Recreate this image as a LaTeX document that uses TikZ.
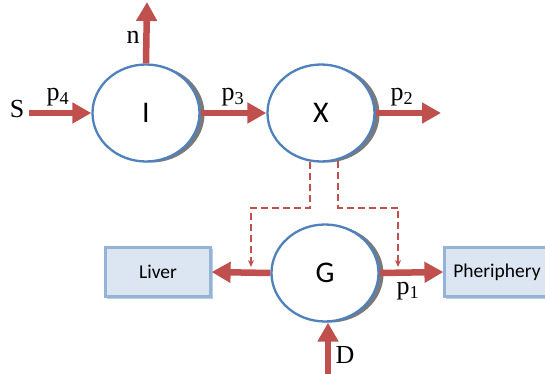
\documentclass[tikz,border=0pt]{standalone}
\usepackage{fontspec}
\setmainfont{Liberation Serif}
\newfontfamily\calfont{Carlito}
\usetikzlibrary{arrows.meta,calc,shapes.geometric,shadows}
\definecolor{flow}{HTML}{C0504D}
\definecolor{rim}{HTML}{4F81BD}
\definecolor{boxfill}{HTML}{DCE6F2}
\definecolor{boxline}{HTML}{95B3D7}
\definecolor{boxshade}{HTML}{B9CDE5}
\definecolor{rimshade}{HTML}{7A7A7A}
\tikzset{
  pool/.style={ellipse, draw=rim, line width=2.3pt, fill=white, inner sep=0pt,
    minimum width=107pt, minimum height=97pt,
    font=\calfont\fontsize{30}{30}\selectfont,
    drop shadow={shadow xshift=5pt, shadow yshift=-1pt, fill=rimshade, opacity=1}},
  organ/.style={rectangle, draw=boxline, line width=2.2pt, fill=boxfill, inner sep=0pt,
    minimum width=105pt, minimum height=49pt,
    font=\calfont\fontsize{19.5}{19.5}\selectfont,
    drop shadow={shadow xshift=2.2pt, shadow yshift=-2.2pt, draw=boxshade, line width=1.2pt, fill=white, opacity=1}},
  flowarrow/.style={draw=flow, line width=6.5pt, -{Triangle[length=19pt,width=20pt]}},
  control/.style={draw=flow, line width=2pt, dash pattern=on 7pt off 4pt,
    -{Stealth[length=7pt,width=6pt]}},
  lbl/.style={inner sep=0pt, font=\fontsize{26}{26}\selectfont},
}
\begin{document}
\begin{tikzpicture}[x=1pt,y=-1pt]
\useasboundingbox (0,0) rectangle (545,374);
\clip (0,0) rectangle (545,374);

% compartments
\node[pool] (I) at (146,113) {I};
\node[pool] (X) at (321,113) {X};
\node[pool] (G) at (325,273) {G};

% sinks
\node[organ] (liver) at (158,272) {Liver};
\node[organ] (peri) at (497,272) {Pheriphery};

% free ends of the flows
\coordinate (src) at (29,113);
\coordinate (ntip) at (147,2);
\coordinate (p2tip) at (441,113);
\coordinate (dtail) at (328,380);
\coordinate (ltip) at (251,267);
\coordinate (rtip) at (398,267);

% labels
\node[lbl] (S) at (17,109) {S};
\node[lbl] (n) at (133,37) {n};
\node[lbl] (p4) at (58,97) {p\textsubscript{4}};
\node[lbl] (p3) at (233,97) {p\textsubscript{3}};
\node[lbl] (p2) at (402,97) {p\textsubscript{2}};
\node[lbl] (p1) at (408,291) {p\textsubscript{1}};
\node[lbl] (D) at (345,355) {D};

% mass flows
\draw[flowarrow] (src) -- (I.west);
\draw[flowarrow] (I.north) -- (ntip);
\draw[flowarrow] (I.east) -- (X.west);
\draw[flowarrow] (X.east) -- (p2tip);
\draw[flowarrow] (G.west) -- (liver.east);
\draw[flowarrow] (G.east) -- (peri.west);
\draw[flowarrow] (dtail) -- (G.south -| dtail);

% control signals from X
\draw[control] ($(X.center)+(-11,48.5)$) -- ++(0,46) -| (ltip);
\draw[control] ($(X.center)+(17,48)$) -- ++(0,46.5) -| (rtip);
\end{tikzpicture}
\end{document}
